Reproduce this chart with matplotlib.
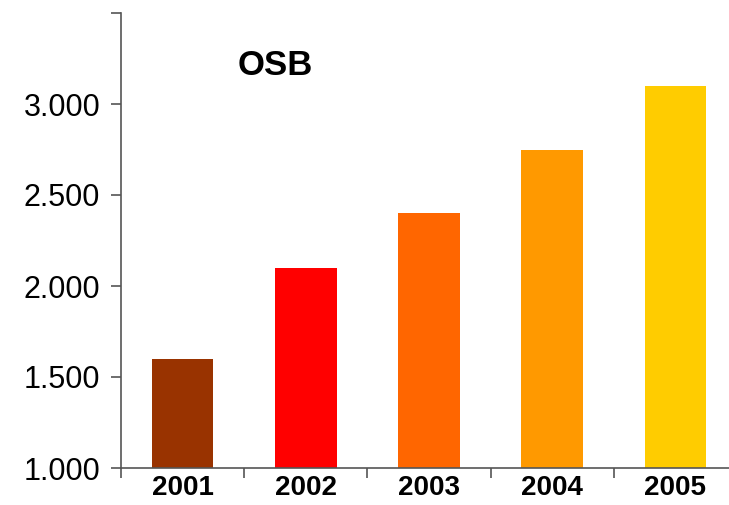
import matplotlib
matplotlib.use("Agg")
import matplotlib.pyplot as plt
import numpy as np

# data
years = ["2001", "2002", "2003", "2004", "2005"]
values = [1600, 2100, 2400, 2750, 3100]
colors = ["#993300", "#FF0000", "#FF6600", "#FF9900", "#FFCC00"]
yticks = [1000, 1500, 2000, 2500, 3000, 3500]
ylabels = ["1.000", "1.500", "2.000", "2.500", "3.000", ""]

plt.rcParams['font.family'] = ['Liberation Sans', 'DejaVu Sans']

fig = plt.figure(figsize=(7.29, 5.05), dpi=100)
ax = fig.add_axes([121/729, 1 - 468/505, 616/729, 455/505])

x = np.arange(len(years))
ax.bar(x, values, width=0.5, color=colors, zorder=2)

ax.set_xlim(-0.5, len(years) - 0.5)
ax.set_ylim(1000, 3500)

# y axis
ax.set_yticks(yticks)
ax.set_yticklabels(ylabels, fontsize=22)
ax.tick_params(axis='y', length=7, width=1.2, color='#555555', pad=8)

# x axis: separators as major ticks, year labels on minor ticks
ax.set_xticks(np.arange(-0.5, len(years), 1.0))
ax.set_xticklabels([])
ax.tick_params(axis='x', which='major', length=7, width=1.2, color='#555555',
               direction='out')
ax.set_xticks(x, minor=True)
ax.set_xticklabels(years, minor=True, fontsize=20, fontweight='bold')
ax.tick_params(axis='x', which='minor', length=0, pad=5)

for side in ['top', 'right']:
    ax.spines[side].set_visible(False)
for side in ['left', 'bottom']:
    ax.spines[side].set_color('#555555')
    ax.spines[side].set_linewidth(1.2)
ax.spines['bottom'].set_bounds(-0.5, len(years) - 0.5)

ax.text(0.25, 0.885, "OSB", transform=ax.transAxes, fontsize=25,
        fontweight='bold', ha='center', va='center')

fig.savefig("out.png", dpi=100)
